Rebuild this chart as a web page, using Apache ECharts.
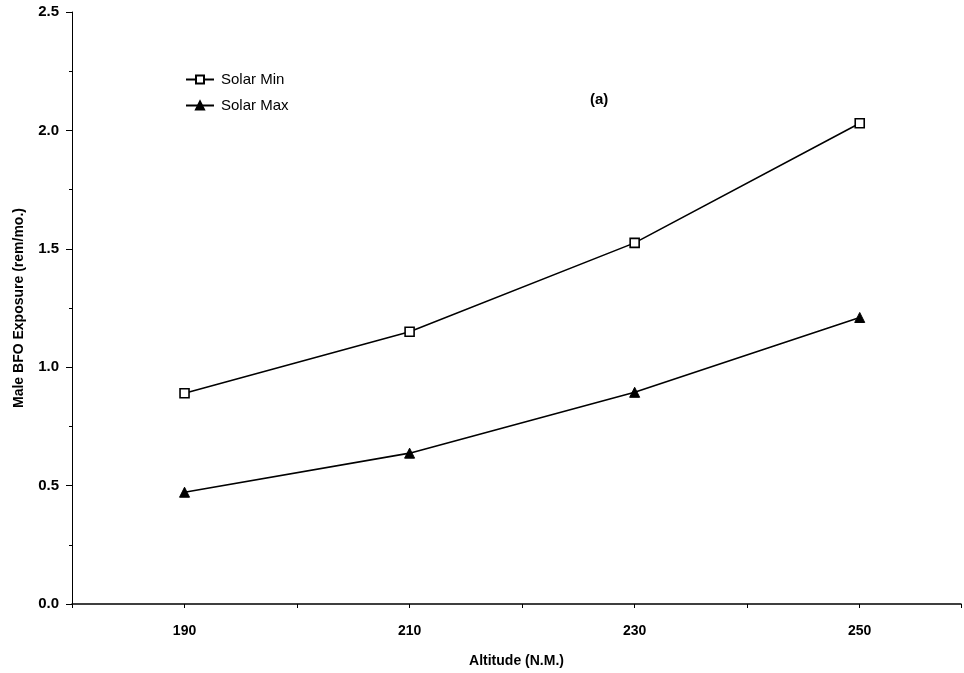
<!DOCTYPE html>
<html>
<head>
<meta charset="utf-8">
<script src="https://cdn.jsdelivr.net/npm/echarts@6/dist/echarts.min.js"></script>
<style>html,body{margin:0;padding:0;background:#fff}#c{width:964px;height:673px}</style>
</head>
<body>
<div id="c"></div>
<script>
var altitudes = [190, 210, 230, 250];
var solarMin = [0.89, 1.15, 1.525, 2.03];
var solarMax = [0.472, 0.637, 0.894, 1.21];
var xLabels = [190, 210, 230, 250];

var font = 'Liberation Sans, Arial, sans-serif';
var chart = echarts.init(document.getElementById('c'));
chart.setOption({
  backgroundColor: '#fff',
  animation: false,
  title: {
    text: '(a)', left: 585, top: 87,
    textStyle: {fontFamily: font, fontWeight: 'bold', fontSize: 15, color: '#000'}
  },
  legend: {
    left: 180, top: 67, orient: 'vertical', itemGap: 11,
    itemWidth: 28, itemHeight: 10,
    textStyle: {fontFamily: font, fontSize: 15, color: '#000', padding: [0,0,0,2]},
    data: ['Solar Min', 'Solar Max']
  },
  grid: {left: 72, right: 2, top: 12, bottom: 67},
  xAxis: {
    type: 'value', min: 180, max: 259, interval: 10,
    name: 'Altitude (N.M.)', nameLocation: 'middle', nameGap: 50,
    nameTextStyle: {fontFamily: font, fontWeight: 'bold', fontSize: 14, color: '#000'},
    axisLine: {lineStyle: {color: '#000', width: 1.5}},
    axisTick: {inside: false, length: 4, lineStyle: {color: '#000'}},
    axisLabel: {
      fontFamily: font, fontWeight: 'bold', fontSize: 14, color: '#000', margin: 20,
      formatter: function (v) { return xLabels.indexOf(v) >= 0 ? String(v) : ''; }
    },
    splitLine: {show: false}
  },
  yAxis: {
    type: 'value', min: 0, max: 2.5, interval: 0.5,
    name: 'Male BFO Exposure (rem/mo.)', nameLocation: 'middle', nameGap: 46,
    nameTextStyle: {fontFamily: font, fontWeight: 'bold', fontSize: 14, color: '#000'},
    axisLine: {show: true, lineStyle: {color: '#000', width: 1}},
    axisTick: {show: true, length: 6, lineStyle: {color: '#000'}},
    minorTick: {show: true, splitNumber: 2, length: 3, lineStyle: {color: '#000'}},
    axisLabel: {
      fontFamily: font, fontWeight: 'bold', fontSize: 15, color: '#000', margin: 13,
      formatter: function (v) { return v.toFixed(1); }
    },
    splitLine: {show: false}
  },
  series: [
    {
      name: 'Solar Min', type: 'line',
      data: altitudes.map(function (a, i) { return [a, solarMin[i]]; }),
      symbol: 'rect', symbolSize: 9,
      lineStyle: {color: '#000', width: 1.6},
      itemStyle: {color: '#fff', borderColor: '#000', borderWidth: 1.6}
    },
    {
      name: 'Solar Max', type: 'line',
      data: altitudes.map(function (a, i) { return [a, solarMax[i]]; }),
      symbol: 'triangle', symbolSize: 10,
      lineStyle: {color: '#000', width: 1.6},
      itemStyle: {color: '#000', borderColor: '#000', borderWidth: 1}
    }
  ]
});
</script>
</body>
</html>
